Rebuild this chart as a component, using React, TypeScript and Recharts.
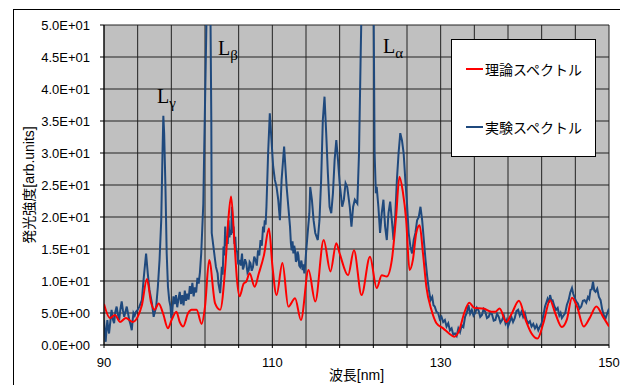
import { LineChart, Line, XAxis, YAxis, CartesianGrid, ReferenceDot } from 'recharts';

// 理論スペクトル: [波長 nm, 強度 arb.units]
const theoryPoints: [number, number][] = [
  [90.0, 6.4], [90.7, 4.2], [91.3, 4.7], [91.9, 3.6], [92.6, 4.2], [93.4, 3.6], [94.0, 4.4], [94.5, 6.2],
  [95.1, 10.3], [95.6, 6.6], [96.0, 5.5], [96.5, 6.5], [97.0, 5.0], [97.6, 2.6], [98.0, 3.8], [98.6, 5.2],
  [99.0, 3.6], [99.4, 2.9], [100.0, 5.0], [100.4, 5.5], [101.0, 5.5], [101.6, 3.3], [102.0, 6.0], [102.5, 13.3],
  [103.2, 6.5], [103.8, 5.5], [104.4, 12.0], [104.8, 20.0], [105.1, 23.2], [105.5, 16.0], [105.8, 10.2], [106.1, 7.6],
  [106.6, 9.6], [106.9, 9.9], [107.3, 11.2], [107.9, 9.1], [108.4, 11.2], [109.0, 14.0], [109.6, 18.2], [110.0, 12.5],
  [110.5, 7.8], [111.2, 12.8], [111.9, 6.0], [112.7, 7.3], [113.4, 3.9], [114.3, 11.7], [115.1, 6.8], [116.1, 16.4],
  [116.9, 11.5], [117.6, 15.9], [118.0, 14.3], [119.0, 10.9], [119.7, 14.8], [120.6, 7.8], [121.6, 13.8], [122.4, 8.9],
  [123.0, 10.9], [123.6, 10.7], [124.2, 13.3], [124.7, 20.0], [125.1, 26.3], [125.5, 24.0], [125.9, 19.5], [126.3, 11.7],
  [126.7, 13.3], [127.1, 17.5], [127.5, 18.7], [127.9, 14.3], [128.3, 9.1], [128.9, 5.5], [129.5, 3.4], [130.3, 2.6],
  [131.0, 1.8], [131.6, 1.3], [132.2, 2.3], [132.8, 5.0], [133.4, 6.6], [134.0, 5.8], [135.1, 5.7], [136.0, 5.2],
  [136.5, 5.2], [137.0, 5.7], [137.8, 3.6], [138.4, 4.8], [139.3, 6.9], [140.1, 3.9], [140.8, 1.8], [141.5, 1.0],
  [142.2, 3.4], [143.0, 7.0], [143.6, 5.0], [144.4, 2.8], [145.0, 4.0], [145.6, 7.4], [146.2, 6.0], [147.0, 2.9],
  [147.7, 4.2], [148.5, 6.0], [149.3, 4.4], [150.0, 2.9],
];

// 実験スペクトル: [波長 nm, 強度 arb.units]
const expPoints: [number, number][] = [
  [90.0, 3.9], [90.1, 2.0], [90.2, 0.5], [90.3, 2.5], [90.4, 3.9], [90.5, 2.6], [90.6, 1.8], [90.75, 3.6],
  [90.9, 5.5], [91.05, 4.0], [91.2, 3.4], [91.35, 5.2], [91.5, 6.0], [91.65, 4.8], [91.8, 3.9], [91.95, 5.6],
  [92.1, 6.8], [92.25, 5.4], [92.4, 4.4], [92.55, 5.2], [92.7, 6.0], [92.85, 5.0], [93.0, 3.9], [93.15, 3.2],
  [93.3, 2.3], [93.4, 3.8], [93.5, 5.0], [93.65, 4.6], [93.8, 5.2], [94.0, 5.5], [94.2, 6.0], [94.35, 6.5],
  [94.5, 7.0], [94.7, 10.2], [95.0, 14.3], [95.2, 11.2], [95.4, 8.6], [95.7, 6.5], [95.9, 4.4], [96.2, 6.0],
  [96.4, 9.1], [96.6, 13.3], [96.8, 19.5], [96.95, 30.0], [97.05, 35.8], [97.15, 33.0], [97.3, 24.7], [97.45, 14.3],
  [97.6, 9.1], [97.75, 7.0], [97.9, 6.0], [98.0, 4.2], [98.1, 5.0], [98.25, 7.6], [98.4, 6.4], [98.55, 7.8],
  [98.7, 5.9], [98.85, 7.2], [99.0, 8.3], [99.15, 6.4], [99.3, 7.8], [99.45, 6.2], [99.6, 8.5], [99.75, 6.9],
  [99.9, 8.0], [100.05, 7.1], [100.2, 9.2], [100.35, 8.0], [100.5, 9.7], [100.65, 7.6], [100.8, 9.0], [100.95, 8.2],
  [101.1, 10.5], [101.25, 9.6], [101.4, 11.4], [101.55, 14.3], [101.8, 22.1], [101.9, 30.0], [102.1, 45.0], [102.3, 60.0],
  [102.6, 60.0], [102.75, 35.0], [102.8, 17.5], [103.1, 14.3], [103.3, 12.2], [103.5, 11.2], [103.6, 9.6], [103.8, 8.1],
  [103.9, 10.0], [104.0, 12.2], [104.1, 11.0], [104.2, 15.4], [104.3, 14.0], [104.4, 18.5], [104.5, 15.5], [104.6, 17.0],
  [104.7, 15.8], [104.8, 19.5], [104.9, 16.8], [105.0, 18.0], [105.1, 17.2], [105.2, 21.6], [105.3, 17.5], [105.4, 18.5],
  [105.5, 15.8], [105.6, 16.9], [105.7, 14.5], [105.8, 14.8], [105.95, 12.6], [106.1, 13.3], [106.25, 12.4], [106.4, 14.3],
  [106.5, 11.8], [106.6, 12.2], [106.75, 13.4], [106.9, 12.8], [107.05, 11.3], [107.2, 11.7], [107.3, 13.0], [107.4, 12.8],
  [107.55, 11.6], [107.7, 12.2], [107.85, 13.8], [108.0, 13.3], [108.15, 12.4], [108.3, 14.8], [108.45, 14.0], [108.6, 16.4],
  [108.75, 15.5], [108.9, 18.5], [109.0, 17.6], [109.1, 19.5], [109.2, 18.8], [109.3, 21.6], [109.5, 30.0], [109.7, 36.2],
  [109.9, 32.0], [110.1, 27.9], [110.3, 25.8], [110.5, 24.7], [110.7, 22.7], [110.9, 19.5], [111.1, 25.8], [111.4, 31.0],
  [111.5, 28.9], [111.7, 24.7], [111.9, 21.6], [112.1, 18.5], [112.2, 16.0], [112.3, 14.8], [112.4, 16.2], [112.5, 14.3],
  [112.6, 15.5], [112.7, 14.8], [112.8, 13.0], [112.9, 13.3], [113.0, 14.6], [113.1, 14.0], [113.2, 12.4], [113.3, 12.2],
  [113.45, 13.2], [113.6, 11.7], [113.7, 12.6], [113.8, 11.2], [113.9, 12.5], [114.0, 14.3], [114.2, 17.5], [114.4, 20.6],
  [114.5, 24.7], [114.7, 22.7], [114.9, 19.5], [115.1, 17.5], [115.4, 16.4], [115.6, 19.5], [115.8, 25.8], [116.0, 35.2],
  [116.2, 38.8], [116.4, 33.1], [116.6, 26.8], [116.8, 21.6], [117.0, 20.6], [117.2, 23.7], [117.4, 28.9], [117.6, 32.0],
  [117.8, 28.9], [118.0, 25.3], [118.3, 21.6], [118.5, 22.7], [118.7, 25.3], [118.9, 24.7], [119.2, 21.6], [119.4, 18.5],
  [119.6, 21.6], [119.8, 22.7], [120.1, 22.1], [120.3, 30.0], [120.5, 45.6], [120.7, 60.0], [121.5, 60.0], [122.0, 60.0],
  [122.15, 30.0], [122.3, 23.7], [122.4, 24.7], [122.6, 21.6], [122.8, 17.5], [123.0, 20.6], [123.2, 22.7], [123.4, 18.5],
  [123.6, 16.4], [123.8, 20.6], [124.0, 22.4], [124.2, 19.5], [124.4, 16.4], [124.6, 20.0], [124.8, 25.8], [125.0, 30.0],
  [125.2, 33.1], [125.4, 32.0], [125.6, 30.0], [125.8, 25.8], [126.0, 22.1], [126.2, 17.5], [126.4, 15.4], [126.6, 14.3],
  [126.8, 16.4], [127.0, 17.5], [127.2, 19.5], [127.4, 20.0], [127.6, 21.6], [127.8, 19.5], [128.0, 16.4], [128.2, 13.3],
  [128.4, 10.7], [128.6, 8.6], [128.8, 7.0], [129.0, 7.5], [129.15, 6.2], [129.3, 6.0], [129.5, 5.2], [129.7, 5.0],
  [129.9, 4.0], [130.1, 4.4], [130.3, 3.6], [130.5, 3.9], [130.7, 2.9], [130.9, 3.4], [131.1, 2.3], [131.3, 2.6],
  [131.5, 1.6], [131.7, 1.8], [131.9, 1.4], [132.1, 2.6], [132.3, 2.0], [132.5, 3.1], [132.7, 2.8], [132.9, 4.4],
  [133.1, 5.0], [133.3, 6.2], [133.5, 4.9], [133.7, 5.5], [133.9, 4.6], [134.1, 5.0], [134.3, 5.8], [134.5, 5.4],
  [134.7, 4.4], [134.9, 4.7], [135.1, 5.6], [135.3, 5.2], [135.5, 4.2], [135.7, 4.4], [135.9, 5.1], [136.1, 4.8],
  [136.3, 3.8], [136.5, 3.9], [136.7, 4.9], [136.9, 4.4], [137.1, 3.5], [137.3, 3.9], [137.5, 4.6], [137.7, 3.4],
  [137.85, 3.9], [138.0, 2.9], [138.2, 3.6], [138.4, 4.4], [138.6, 3.6], [138.8, 4.2], [139.0, 5.3], [139.2, 5.5],
  [139.4, 4.6], [139.6, 5.2], [139.8, 4.4], [140.0, 5.0], [140.2, 3.9], [140.4, 3.4], [140.6, 3.7], [140.8, 2.9],
  [141.0, 3.3], [141.2, 2.6], [141.4, 3.1], [141.6, 2.3], [141.8, 2.9], [142.0, 3.4], [142.2, 4.6], [142.4, 6.0],
  [142.55, 6.6], [142.7, 7.2], [142.85, 6.6], [143.0, 7.8], [143.15, 7.0], [143.3, 7.0], [143.5, 6.1], [143.7, 5.5],
  [143.9, 5.8], [144.1, 4.6], [144.25, 5.0], [144.4, 4.2], [144.6, 4.6], [144.8, 5.0], [145.0, 6.3], [145.2, 7.0],
  [145.4, 8.2], [145.6, 8.9], [145.75, 8.0], [145.9, 7.5], [146.1, 6.8], [146.3, 6.5], [146.5, 5.7], [146.7, 6.0],
  [146.9, 6.9], [147.1, 7.0], [147.3, 6.6], [147.5, 7.5], [147.65, 7.2], [147.8, 8.6], [147.95, 8.7], [148.1, 9.9],
  [148.25, 8.5], [148.4, 8.3], [148.6, 8.8], [148.8, 7.5], [149.0, 7.0], [149.2, 5.5], [149.4, 4.6], [149.6, 4.2],
  [149.8, 5.0], [150.0, 5.7],
];

const xTicks = [90, 94, 98, 102, 106, 110, 114, 118, 122, 126, 130, 134, 138, 142, 146, 150];
const xLabelTicks = [90, 110, 130, 150];
const yTicks = [0, 5, 10, 15, 20, 25, 30, 35, 40, 45, 50];

const peakLabels = [
  { x: 96.3, y: 37.8, sub: 'γ' },
  { x: 103.54, y: 45.3, sub: 'β' },
  { x: 123.15, y: 45.6, sub: 'α' },
];

const seriesNames = ['理論スペクトル', '実験スペクトル'];
const seriesColors = ['#ff0000', '#1f497d'];

const theoryData = theoryPoints.map(([x, y]) => ({ x, y }));
const expData = expPoints.map(([x, y]) => ({ x, y }));

const sansFont = "'Liberation Sans', 'Noto Sans CJK JP', sans-serif";

const sci = (v: number) => {
  if (v === 0) return '0.0E+00';
  const e = Math.floor(Math.log10(v));
  const m = v / Math.pow(10, e);
  return `${m.toFixed(1)}E${e >= 0 ? '+' : '-'}${String(Math.abs(e)).padStart(2, '0')}`;
};

const PeakText = (props: any) => {
  const { cx, cy, sub } = props;
  return (
    <text x={cx} y={cy} fontFamily="'Liberation Serif', serif" fontSize={20} fill="#000">
      L
      <tspan fontSize={15} dy={5}>{sub}</tspan>
    </text>
  );
};

export default function App() {
  return (
    <div
      style={{
        position: 'relative',
        marginLeft: 5,
        marginTop: 1,
        width: 610,
        height: 390,
        border: '1px solid #000',
        background: '#fff',
        fontFamily: sansFont,
      }}
    >
      <LineChart
        width={610}
        height={380}
        margin={{ top: 15, right: 15, left: 0, bottom: 15 }}
      >
        <CartesianGrid
          stroke="#222"
          strokeWidth={1}
          fill="#c0c0c0"
          fillOpacity={1}
          verticalValues={xTicks}
          horizontalValues={yTicks}
        />
        <XAxis
          type="number"
          dataKey="x"
          domain={[90, 150]}
          ticks={xTicks}
          interval={0}
          allowDataOverflow
          height={30}
          tickSize={3}
          tickMargin={10}
          tickFormatter={(v: number) => (xLabelTicks.includes(v) ? String(v) : '')}
          tick={{ fontSize: 13, fill: '#000', fontFamily: sansFont }}
          axisLine={{ stroke: '#000' }}
          tickLine={{ stroke: '#000' }}
          label={{
            value: '波長[nm]',
            position: 'insideBottom',
            offset: -5,
            style: { fontSize: 14, fill: '#000', fontFamily: sansFont },
          }}
        />
        <YAxis
          type="number"
          domain={[0, 50]}
          ticks={yTicks}
          interval={0}
          allowDataOverflow
          width={90}
          tickSize={4}
          tickMargin={10}
          tickFormatter={sci}
          tick={{ fontSize: 13, fill: '#000', fontFamily: sansFont }}
          axisLine={{ stroke: '#000' }}
          tickLine={{ stroke: '#000' }}
          label={{
            value: '発光強度[arb.units]',
            angle: -90,
            position: 'insideLeft',
            offset: 15,
            style: { textAnchor: 'middle', fontSize: 14, fill: '#000', fontFamily: sansFont },
          }}
        />
        <Line
          data={expData}
          dataKey="y"
          type="linear"
          stroke={seriesColors[1]}
          strokeWidth={2}
          dot={false}
          isAnimationActive={false}
        />
        <Line
          data={theoryData}
          dataKey="y"
          type="monotone"
          stroke={seriesColors[0]}
          strokeWidth={2}
          dot={false}
          isAnimationActive={false}
        />
        {peakLabels.map((p) => (
          <ReferenceDot
            key={p.sub}
            x={p.x}
            y={p.y}
            r={0}
            shape={(props: any) => <PeakText {...props} sub={p.sub} />}
          />
        ))}
      </LineChart>
      <div
        style={{
          position: 'absolute',
          left: 437,
          top: 29,
          width: 143,
          height: 116,
          border: '1px solid #000',
          background: '#fff',
        }}
      >
        {seriesNames.map((name, i) => (
          <div
            key={name}
            style={{
              position: 'absolute',
              left: 14,
              top: i === 0 ? 19 : 77,
              height: 20,
              display: 'flex',
              alignItems: 'center',
              fontSize: 14,
              whiteSpace: 'nowrap',
            }}
          >
            <span style={{ display: 'inline-block', width: 17, height: 2, background: seriesColors[i], marginRight: 2 }} />
            <span style={{ fontFamily: "'Noto Sans CJK JP', sans-serif" }}>{name}</span>
          </div>
        ))}
      </div>
    </div>
  );
}
